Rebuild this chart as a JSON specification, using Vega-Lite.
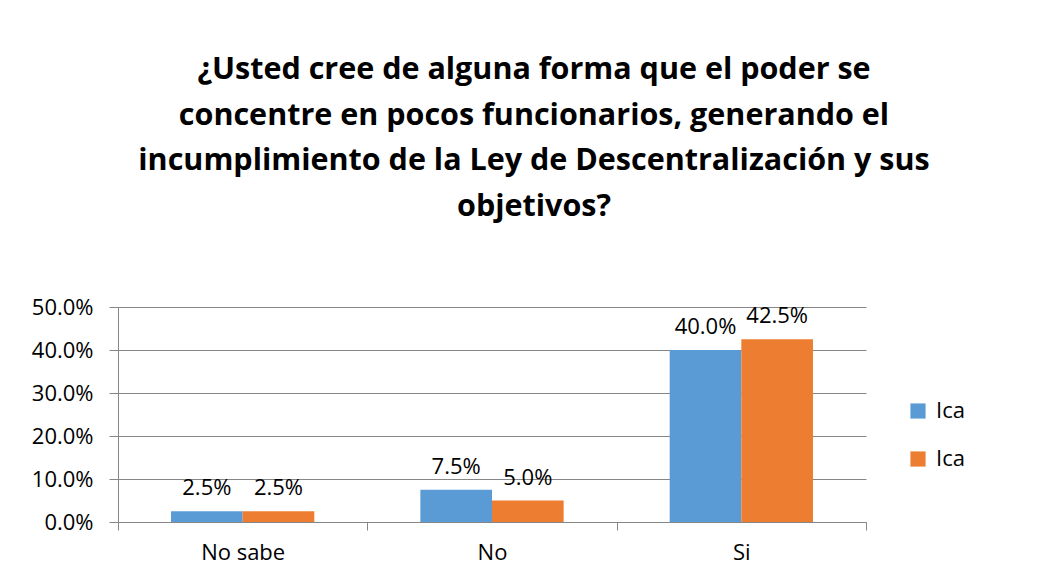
{
  "$schema": "https://vega.github.io/schema/vega-lite/v6.json",
  "autosize": "none",
  "width": 748,
  "height": 215,
  "padding": {"left": 118, "top": 307, "right": 182, "bottom": 63},
  "background": "white",
  "title": {
    "text": ["¿Usted cree de alguna forma que el poder se", "concentre en pocos funcionarios, generando el", "incumplimiento de la Ley de Descentralización y sus", "objetivos?"],
    "font": "Open Sans",
    "fontWeight": "bold",
    "fontSize": 30.5,
    "lineHeight": 45.5,
    "color": "#000000",
    "anchor": "middle",
    "dx": 42,
    "offset": 74
  },
  "data": {
    "values": [
      {"category": "No sabe", "series": "Ica 1", "value": 0.025},
      {"category": "No sabe", "series": "Ica 2", "value": 0.025},
      {"category": "No", "series": "Ica 1", "value": 0.075},
      {"category": "No", "series": "Ica 2", "value": 0.05},
      {"category": "Si", "series": "Ica 1", "value": 0.40},
      {"category": "Si", "series": "Ica 2", "value": 0.425}
    ]
  },
  "encoding": {
    "x": {
      "field": "category", "type": "nominal", "sort": ["No sabe", "No", "Si"],
      "scale": {"paddingInner": 0, "paddingOuter": 0},
      "axis": {
        "title": null, "labelAngle": 0, "grid": false,
        "domainColor": "#868686", "tickColor": "#868686", "tickBand": "extent",
        "tickSize": 8, "labelPadding": 12, "labelFont": "Open Sans", "labelFontSize": 22, "labelColor": "#000000"
      }
    },
    "xOffset": {"field": "series", "type": "nominal", "scale": {"paddingInner": 0, "paddingOuter": 0.74}},
    "y": {
      "field": "value", "type": "quantitative",
      "scale": {"domain": [0, 0.5]},
      "axis": {
        "title": null, "format": ".1%", "values": [0, 0.1, 0.2, 0.3, 0.4, 0.5],
        "labelOverlap": false, "labelFlush": false,
        "gridColor": "#868686", "domainColor": "#868686", "tickColor": "#868686",
        "tickSize": 9, "labelPadding": 16, "labelFont": "Open Sans", "labelFontSize": 22, "labelColor": "#000000"
      }
    }
  },
  "layer": [
    {
      "mark": {"type": "bar"},
      "encoding": {
        "color": {
          "field": "series", "type": "nominal",
          "scale": {"domain": ["Ica 1", "Ica 2"], "range": ["#5B9BD5", "#ED7D31"]},
          "legend": {
            "title": null, "orient": "none", "legendX": 789, "legendY": 93,
            "labelExpr": "'Ica'", "symbolType": "square", "symbolSize": 230,
            "symbolStrokeWidth": 0, "labelFont": "Open Sans", "labelFontSize": 22,
            "labelColor": "#000000", "rowPadding": 26, "labelOffset": 7
          }
        }
      }
    },
    {
      "mark": {"type": "text", "baseline": "bottom", "dy": -11, "font": "Open Sans", "fontSize": 22, "color": "#000000"},
      "encoding": {
        "text": {"field": "value", "type": "quantitative", "format": ".1%"}
      }
    }
  ],
  "config": {"view": {"stroke": null}}
}
